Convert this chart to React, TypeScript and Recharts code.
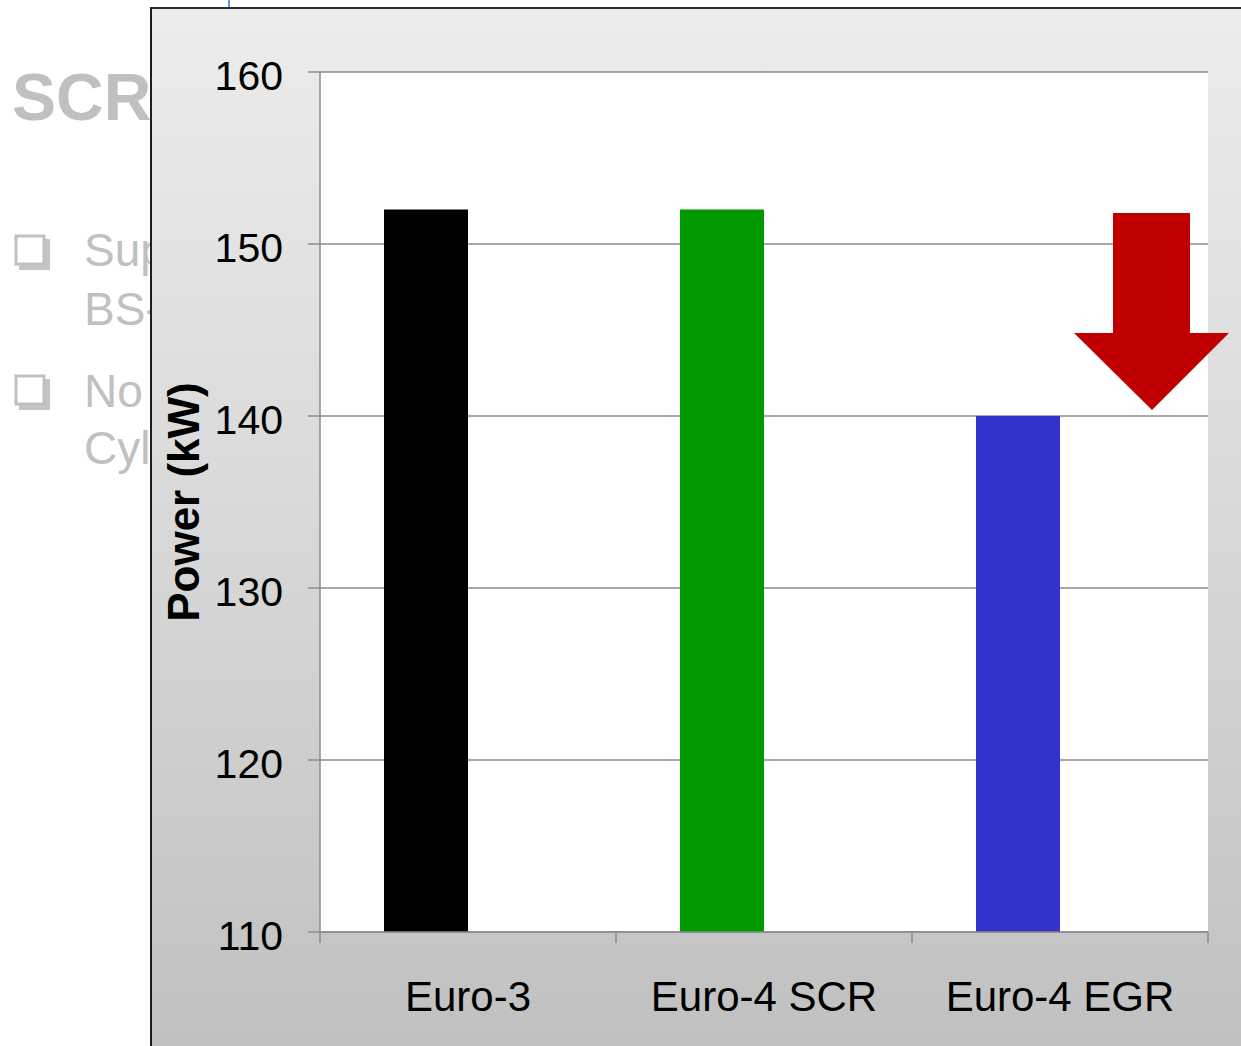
import { Bar, BarChart, CartesianGrid, Cell, XAxis, YAxis } from "recharts";

const categories = ["Euro-3", "Euro-4 SCR", "Euro-4 EGR"];
const powerKw = [152, 152, 140];
const barColors = ["#000000", "#009900", "#3333CC"];
const yTicks = [110, 120, 130, 140, 150, 160];

const data = categories.map((name, i) => ({ name, power: powerKw[i] }));

const FONT = '"Liberation Sans", Arial, Helvetica, sans-serif';
const AXIS_GRAY = "#8c8c8c";

// category label in the middle, tick marks on the band edges (Excel style)
const CategoryTick = (props: any) => {
  const { x, y, payload, index } = props;
  const half = payload?.offset ?? 0;
  const isLast = index === categories.length - 1;
  return (
    <g>
      <line x1={x - half} y1={y} x2={x - half} y2={y + 11} stroke={AXIS_GRAY} strokeWidth={1.5} />
      {isLast && (
        <line x1={x + half} y1={y} x2={x + half} y2={y + 11} stroke={AXIS_GRAY} strokeWidth={1.5} />
      )}
      <text x={x} y={y + 79} textAnchor="middle" fontSize={42} fill="#000" fontFamily={FONT}>
        {payload.value}
      </text>
    </g>
  );
};

const CheckBox = ({ top }: { top: number }) => (
  <svg style={{ position: "absolute", left: 14, top }} width={38} height={38}>
    <path d="M 5 30 L 5 36 L 36 36 L 36 5 L 30 5 L 30 30 Z" fill="#c4c4c4" />
    <rect x={2} y={2} width={28} height={28} fill="#fff" stroke="#c0c0c0" strokeWidth={3} />
  </svg>
);

const slideText = { position: "absolute" as const, color: "#c0c0c0", fontFamily: FONT, whiteSpace: "nowrap" as const, lineHeight: 1 };

const App = () => {
  return (
    <div style={{ position: "absolute", left: 0, top: 0, width: 1241, height: 1046, overflow: "hidden", background: "#fff", fontFamily: FONT }}>
      {/* slide behind the chart */}
      <div style={{ position: "absolute", left: 228, top: 0, width: 2, height: 10, background: "#5b9bd5" }} />
      <div style={{ ...slideText, left: 12, top: 64, fontSize: 66, fontWeight: "bold" }}>SCR</div>
      <CheckBox top={234} />
      <CheckBox top={374} />
      <div style={{ ...slideText, left: 84, top: 227, fontSize: 46 }}>Sup</div>
      <div style={{ ...slideText, left: 84, top: 286, fontSize: 46 }}>BS-</div>
      <div style={{ ...slideText, left: 84, top: 368, fontSize: 46 }}>No</div>
      <div style={{ ...slideText, left: 84, top: 425, fontSize: 46 }}>Cyl</div>

      {/* chart frame */}
      <div
        style={{
          position: "absolute",
          left: 150,
          top: 7,
          width: 1100,
          height: 1045,
          boxSizing: "border-box",
          borderLeft: "2px solid #1e1e1e",
          borderTop: "2px solid #2e2e2e",
          background: "linear-gradient(180deg, #ececec 0%, #d8d8d8 50%, #c0c0c0 100%)",
        }}
      />

      <div style={{ position: "absolute", left: 0, top: 0 }}>
        <BarChart
          width={1241}
          height={1046}
          data={data}
          margin={{ top: 72, right: 33, left: 150, bottom: 0 }}
          barGap={0}
          barSize={84}
        >
          <CartesianGrid vertical={false} stroke={AXIS_GRAY} strokeWidth={1.5} fill="#ffffff" />
          <XAxis
            dataKey="name"
            height={114}
            tickLine={false}
            tickSize={0}
            tickMargin={0}
            axisLine={{ stroke: AXIS_GRAY, strokeWidth: 1.5 }}
            tick={<CategoryTick />}
            interval={0}
          />
          <YAxis
            width={170}
            domain={[110, 160]}
            ticks={yTicks}
            allowDataOverflow
            tickSize={12}
            tickMargin={25}
            axisLine={{ stroke: AXIS_GRAY, strokeWidth: 1.5 }}
            tickLine={{ stroke: AXIS_GRAY, strokeWidth: 1.5 }}
            tick={{ fill: "#000", fontSize: 41, fontFamily: FONT, dy: 3 }}
            label={{
              value: "Power (kW)",
              angle: -90,
              position: "insideLeft",
              offset: 33,
              style: { textAnchor: "middle", fontSize: 44, fontWeight: "bold", fill: "#000", fontFamily: FONT },
            }}
          />
          <Bar dataKey="power" isAnimationActive={false}>
            {data.map((entry, index) => (
              <Cell key={`cell-${index}`} fill={barColors[index % barColors.length]} />
            ))}
          </Bar>
          {/* second (empty) series keeps each bar in the left half of its group */}
          <Bar dataKey="secondary" fill="#ffffff" isAnimationActive={false} />
        </BarChart>
      </div>

      {/* red "decrease" arrow */}
      <svg style={{ position: "absolute", left: 0, top: 0 }} width={1241} height={1046}>
        <polygon
          points="1113,213 1190,213 1190,333 1229,333 1152,410 1074,333 1113,333"
          fill="#c00000"
        />
      </svg>
    </div>
  );
};

export default App;
